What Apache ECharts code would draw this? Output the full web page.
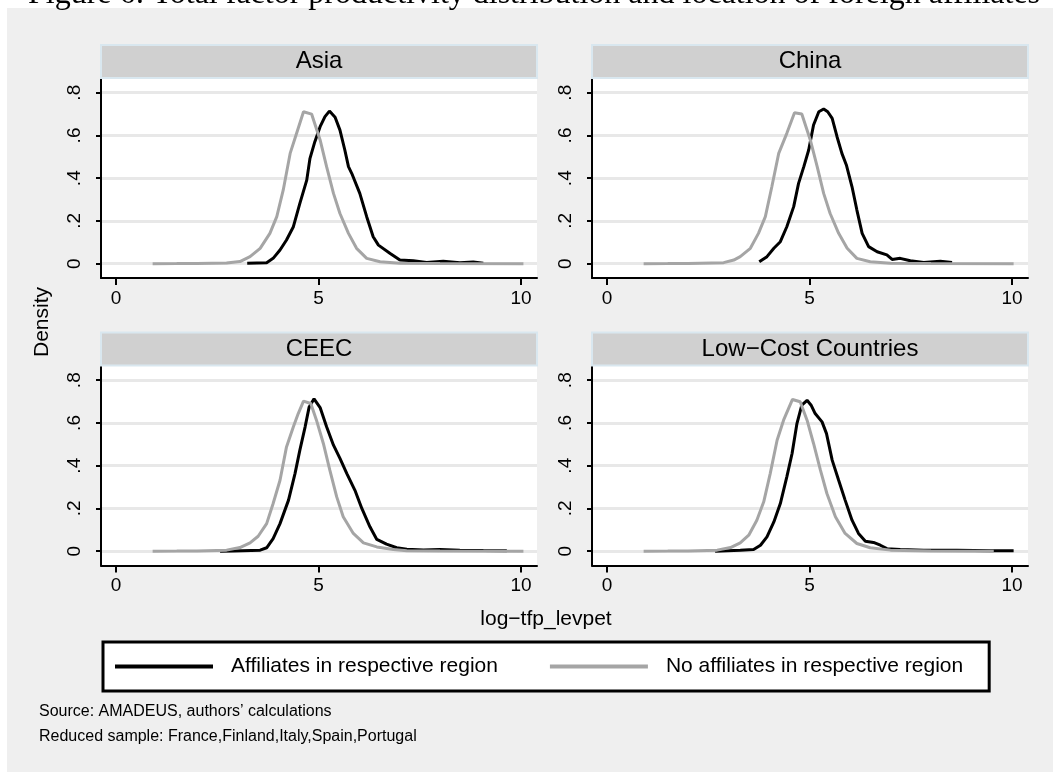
<!DOCTYPE html>
<html>
<head>
<meta charset="utf-8">
<script src="https://cdn.jsdelivr.net/npm/echarts@6.0.0/dist/echarts.min.js"></script>
<style>
  html, body { margin: 0; padding: 0; background: #fff; }
  #chart { width: 1053px; height: 772px; }
</style>
</head>
<body>
<div id="chart"></div>
<script>
// ---------- data ----------
const panelNames = ['Asia', 'China', 'CEEC', 'Low\u2212Cost Countries'];
const seriesNames = ['Affiliates in respective region', 'No affiliates in respective region'];
const xTicks = [0, 5, 10];
const yTicks = [0, 0.2, 0.4, 0.6, 0.8];

const asiaAff = [[3.24,0.002],[3.72,0.005],[3.88,0.025],[4.05,0.064],[4.21,0.111],[4.38,0.173],[4.54,0.282],[4.71,0.391],[4.79,0.493],[4.91,0.571],[5.04,0.641],[5.16,0.688],[5.27,0.714],[5.41,0.685],[5.53,0.625],[5.65,0.532],[5.74,0.454],[5.82,0.423],[6.02,0.329],[6.19,0.22],[6.35,0.126],[6.48,0.087],[6.77,0.048],[7.01,0.017],[7.34,0.014],[7.67,0.006],[8.08,0.011],[8.49,0.005],[8.82,0.008],[9.07,0.002]];
const asiaNo = [[0.905,0],[1.5,0.0005],[2.0,0.001],[2.73,0.003],[3.06,0.01],[3.31,0.033],[3.56,0.072],[3.80,0.142],[3.97,0.22],[4.13,0.345],[4.30,0.516],[4.46,0.61],[4.63,0.711],[4.83,0.70],[5.04,0.579],[5.20,0.454],[5.37,0.329],[5.53,0.235],[5.74,0.142],[5.94,0.072],[6.19,0.025],[6.52,0.009],[7.01,0.002],[8.0,0.0005],[10.06,0]];

const chinaAff = [[3.76,0.009],[3.95,0.033],[4.12,0.072],[4.28,0.103],[4.44,0.173],[4.61,0.267],[4.73,0.376],[4.86,0.454],[4.98,0.532],[5.10,0.649],[5.23,0.711],[5.35,0.724],[5.45,0.711],[5.56,0.68],[5.68,0.594],[5.80,0.516],[5.91,0.462],[6.05,0.36],[6.17,0.251],[6.30,0.142],[6.46,0.08],[6.67,0.056],[6.91,0.041],[7.04,0.02],[7.24,0.025],[7.49,0.014],[7.82,0.006],[8.23,0.012],[8.52,0.006]];
const chinaNo = [[0.905,0],[1.5,0.0005],[2.0,0.001],[2.88,0.005],[3.13,0.017],[3.29,0.033],[3.54,0.072],[3.74,0.142],[3.91,0.22],[4.07,0.36],[4.24,0.516],[4.44,0.61],[4.63,0.706],[4.81,0.70],[5.02,0.579],[5.19,0.454],[5.35,0.329],[5.51,0.235],[5.72,0.142],[5.93,0.072],[6.17,0.025],[6.5,0.009],[7.0,0.002],[8.0,0.0005],[10.04,0]];

const ceecAff = [[2.57,0],[2.9,0.001],[3.56,0.005],[3.72,0.016],[3.88,0.059],[4.05,0.129],[4.26,0.239],[4.42,0.363],[4.54,0.473],[4.67,0.582],[4.77,0.675],[4.89,0.713],[5.04,0.672],[5.2,0.582],[5.37,0.496],[5.53,0.434],[5.70,0.363],[5.9,0.285],[6.07,0.2],[6.27,0.114],[6.44,0.055],[6.68,0.033],[6.93,0.016],[7.18,0.009],[7.59,0.006],[8.0,0.008],[8.49,0.005],[9.07,0.003],[9.65,0.002]];
const ceecNo = [[0.905,0],[1.5,0.0005],[2.0,0.001],[2.73,0.005],[3.06,0.017],[3.31,0.039],[3.51,0.07],[3.72,0.129],[3.88,0.223],[4.05,0.332],[4.21,0.488],[4.38,0.582],[4.50,0.644],[4.63,0.702],[4.81,0.691],[4.95,0.613],[5.12,0.504],[5.28,0.379],[5.45,0.254],[5.61,0.161],[5.86,0.083],[6.11,0.039],[6.44,0.02],[6.85,0.008],[7.18,0.002],[8.0,0.0005],[10.06,0]];

const lccAff = [[2.67,0],[3.29,0.005],[3.62,0.008],[3.79,0.028],[3.95,0.067],[4.12,0.137],[4.28,0.223],[4.44,0.348],[4.57,0.457],[4.69,0.597],[4.81,0.683],[4.94,0.706],[5.04,0.683],[5.14,0.644],[5.31,0.605],[5.42,0.55],[5.56,0.426],[5.72,0.332],[5.88,0.239],[6.05,0.145],[6.21,0.083],[6.38,0.047],[6.58,0.041],[6.75,0.028],[6.91,0.012],[7.24,0.008],[7.82,0.005],[8.64,0.005],[9.47,0.002],[10.04,0.002]];
const lccNo = [[0.905,0],[1.5,0.0005],[2.0,0.001],[2.72,0.005],[3.05,0.017],[3.29,0.039],[3.5,0.075],[3.70,0.145],[3.87,0.231],[4.03,0.363],[4.2,0.519],[4.36,0.613],[4.58,0.71],[4.77,0.699],[4.94,0.613],[5.1,0.504],[5.27,0.379],[5.43,0.27],[5.64,0.161],[5.88,0.083],[6.17,0.036],[6.5,0.016],[7.0,0.005],[8.0,0.001],[9.55,0]];

const panelAff = [asiaAff, chinaAff, ceecAff, lccAff];
const panelNo = [asiaNo, chinaNo, ceecNo, lccNo];

const titleText = 'Figure 6: Total factor productivity distribution and location of foreign affiliates';
const xTitle = 'log\u2212tfp_levpet';
const yTitle = 'Density';
const notes = ['Source: AMADEUS, authors\u2019 calculations', 'Reduced sample: France,Finland,Italy,Spain,Portugal'];

// ---------- layout ----------
const FONT = 'Liberation Sans, Arial, sans-serif';
const gridBoxes = [
  { left: 101, top: 78, width: 436, height: 200 },
  { left: 592, top: 78, width: 436, height: 200 },
  { left: 101, top: 365.5, width: 436, height: 200 },
  { left: 592, top: 365.5, width: 436, height: 200 }
];
const HEADER_H = 33;
const colors = ['#000000', '#a5a5a5'];

const grids = [], xAxes = [], yAxes = [], series = [], graphics = [];

graphics.push({ type: 'rect', shape: { x: 0, y: 0, width: 1053, height: 8 }, style: { fill: '#ffffff' }, silent: true });
graphics.push({ type: 'rect', shape: { x: 0, y: 0, width: 7, height: 772 }, style: { fill: '#ffffff' }, silent: true });
graphics.push({ type: 'text', x: 28, y: -5, silent: true,
  style: { text: titleText, font: '32px "Liberation Serif", "DejaVu Serif", serif', fill: '#000', textAlign: 'left', textVerticalAlign: 'middle' } });

gridBoxes.forEach((g, i) => {
  grids.push({ left: g.left, top: g.top, width: g.width, height: g.height, show: true, backgroundColor: '#ffffff', borderWidth: 0 });
  xAxes.push({
    type: 'value', gridIndex: i, min: -0.37, max: 10.395,
    axisLine: { show: true, onZero: false, lineStyle: { color: '#000', width: 2 } },
    axisTick: { show: true, length: 7, lineStyle: { color: '#000', width: 2 }, customValues: xTicks },
    axisLabel: { customValues: xTicks, margin: 11, fontSize: 19, color: '#000', fontFamily: FONT },
    splitLine: { show: false }
  });
  yAxes.push({
    type: 'value', gridIndex: i, min: -0.0669, max: 0.8688,
    axisLine: { show: true, onZero: false, lineStyle: { color: '#000', width: 2 } },
    axisTick: { show: true, length: 5, lineStyle: { color: '#000', width: 2 }, customValues: yTicks },
    axisLabel: { customValues: yTicks, rotate: 90, margin: 17, fontSize: 19, color: '#000', fontFamily: FONT,
      formatter: v => (v === 0 ? '0' : String(+v.toFixed(1)).replace(/^0/, '')) },
    splitLine: { show: true, lineStyle: { color: '#e8e8e8', width: 3 } }
  });
  series.push({ name: seriesNames[0], type: 'line', xAxisIndex: i, yAxisIndex: i, data: panelAff[i],
    showSymbol: false, symbol: 'none', lineStyle: { color: colors[0], width: 3 }, itemStyle: { color: colors[0] }, z: 3 });
  series.push({ name: seriesNames[1], type: 'line', xAxisIndex: i, yAxisIndex: i, data: panelNo[i],
    showSymbol: false, symbol: 'none', lineStyle: { color: colors[1], width: 3 }, itemStyle: { color: colors[1] }, z: 4 });
  // panel header strip
  graphics.push({ type: 'rect', silent: true, z: 5,
    shape: { x: g.left, y: g.top - HEADER_H, width: g.width, height: HEADER_H },
    style: { fill: '#d0d0d0', stroke: '#d9e7ef', lineWidth: 2 } });
  graphics.push({ type: 'text', silent: true, z: 6, x: g.left + g.width / 2, y: g.top - HEADER_H / 2,
    style: { text: panelNames[i], font: '24px ' + FONT, fill: '#000', textAlign: 'center', textVerticalAlign: 'middle' } });
});

graphics.push({ type: 'text', silent: true, x: 42, y: 322, rotation: Math.PI / 2,
  style: { text: yTitle, font: '21px ' + FONT, fill: '#000', textAlign: 'center', textVerticalAlign: 'middle' } });
graphics.push({ type: 'text', silent: true, x: 546, y: 619,
  style: { text: xTitle, font: '21px ' + FONT, fill: '#000', textAlign: 'center', textVerticalAlign: 'middle' } });
graphics.push({ type: 'text', silent: true, x: 39, y: 711.5,
  style: { text: notes[0], font: '16px ' + FONT, fill: '#000', textAlign: 'left', textVerticalAlign: 'middle' } });
graphics.push({ type: 'text', silent: true, x: 39, y: 737,
  style: { text: notes[1], font: '16px ' + FONT, fill: '#000', textAlign: 'left', textVerticalAlign: 'middle' } });

const chart = echarts.init(document.getElementById('chart'), null, { renderer: 'canvas' });
chart.setOption({
  animation: false,
  backgroundColor: '#efefef',
  grid: grids,
  xAxis: xAxes,
  yAxis: yAxes,
  series: series,
  legend: {
    data: seriesNames,
    left: 103, top: 642,
    orient: 'horizontal',
    icon: 'rect', itemWidth: 98, itemHeight: 4, itemGap: 52,
    padding: [14, 26, 14, 12],
    backgroundColor: '#ffffff', borderColor: '#000', borderWidth: 3,
    textStyle: { fontSize: 21, fontFamily: FONT, color: '#000', padding: [0, 0, 0, 13] },
    selectedMode: false
  },
  graphic: graphics
});
</script>
</body>
</html>
